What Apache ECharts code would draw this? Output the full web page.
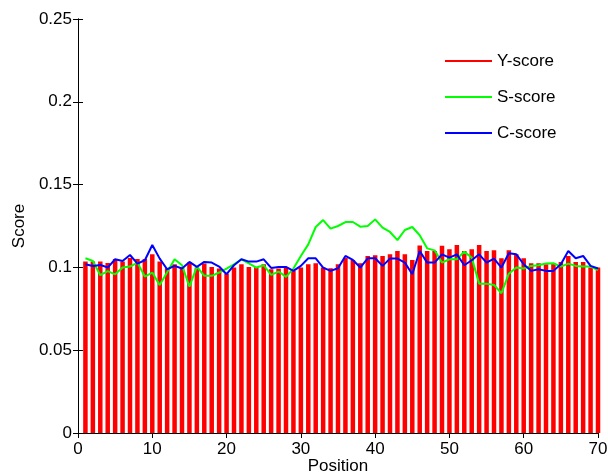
<!DOCTYPE html>
<html>
<head>
<meta charset="utf-8">
<script src="https://cdn.jsdelivr.net/npm/echarts@6/dist/echarts.min.js"></script>
<style>
html,body{margin:0;padding:0;background:#fff;}
#c{width:608px;height:475px;}
</style>
</head>
<body>
<div id="c"></div>
<script>
var positions = [];
for (var i = 1; i <= 70; i++) positions.push(i);

var yScore = [
0.1035,0.1035,0.1035,0.1027,0.1050,0.1035,0.1057,0.1050,0.1050,0.1080,
0.1035,0.0995,0.1019,0.0999,0.1029,0.0999,0.1023,0.1003,0.0993,0.0963,
0.0999,0.1019,0.1003,0.1002,0.1019,0.0989,0.0993,0.0999,0.0979,0.0999,
0.1019,0.1025,0.0999,0.0995,0.1019,0.1059,0.1045,0.1025,0.1069,0.1073,
0.1069,0.1079,0.1099,0.1079,0.1045,0.1133,0.1099,0.1099,0.1130,0.1109,
0.1135,0.1099,0.1109,0.1135,0.1099,0.1103,0.1055,0.1103,0.1079,0.1055,
0.1025,0.1025,0.1019,0.1023,0.1033,0.1069,0.1033,0.1033,0.0999,0.0999
];

var sScore = [
0.1055,0.1039,0.0953,0.0978,0.0958,0.0999,0.1005,0.1029,0.0945,0.0969,
0.0893,0.0970,0.1049,0.1013,0.0884,0.1005,0.0949,0.0949,0.0969,0.0993,
0.1019,0.1049,0.1025,0.0999,0.1013,0.0955,0.0975,0.0943,0.0993,0.1069,
0.1139,0.1244,0.1286,0.1234,0.1250,0.1274,0.1274,0.1246,0.1250,0.1290,
0.1240,0.1214,0.1165,0.1226,0.1244,0.1194,0.1115,0.1103,0.1029,0.1049,
0.1049,0.1095,0.1059,0.0902,0.0902,0.0894,0.0844,0.0962,0.0999,0.0993,
0.1009,0.1013,0.1023,0.1025,0.1005,0.1023,0.1009,0.1005,0.1005,0.0983
];

var cScore = [
0.1019,0.1009,0.1015,0.0999,0.1049,0.1039,0.1075,0.1023,0.1043,0.1135,
0.1053,0.0989,0.1009,0.0993,0.1033,0.1003,0.1033,0.1029,0.1005,0.0959,
0.1013,0.1049,0.1035,0.1035,0.1049,0.0997,0.1003,0.1003,0.0979,0.1009,
0.1055,0.1055,0.0999,0.0979,0.0995,0.1069,0.1045,0.0999,0.1055,0.1055,
0.1009,0.1053,0.1053,0.1029,0.0959,0.1099,0.1029,0.1029,0.1079,0.1059,
0.1079,0.1013,0.1043,0.1079,0.1029,0.1053,0.0999,0.1085,0.1079,0.1019,
0.0979,0.0989,0.0979,0.0979,0.1019,0.1099,0.1055,0.1069,0.1009,0.0993
];

var xTicks = [0,10,20,30,40,50,60,70];
var yTicks = [0,0.05,0.1,0.15,0.2,0.25];
var seriesNames = ['Y-score','S-score','C-score'];

function pairs(vals){ return positions.map(function(p,i){ return [p, vals[i]]; }); }

var FONT = 'Liberation Sans, Arial, sans-serif';
var FS = 17;

var chart = echarts.init(document.getElementById('c'), null, {renderer:'canvas'});
var axisLine = {show:true, lineStyle:{color:'#000', width:1}};
var axisTick = {show:true, inside:true, length:5, lineStyle:{color:'#000', width:1}};

chart.setOption({
  animation:false,
  backgroundColor:'#fff',
  grid:{left:78, top:19, width:520, height:414, containLabel:false, outerBoundsMode:'none'},
  legend:{
    orient:'vertical',
    left:445, top:52,
    padding:0,
    itemWidth:47, itemHeight:2,
    itemGap:18,
    icon:'rect',
    data:seriesNames,
    textStyle:{fontFamily:FONT, fontSize:FS, color:'#000', lineHeight:18, padding:[0,0,0,0]},
    selectedMode:false
  },
  xAxis:[{
    type:'value', min:xTicks[0], max:xTicks[xTicks.length-1], interval:10,
    position:'bottom',
    axisLine:axisLine, axisTick:axisTick, splitLine:{show:false},
    axisLabel:{fontFamily:FONT, fontSize:FS, color:'#000', margin:8},
    name:'Position', nameLocation:'middle', nameGap:25, nameMoveOverlap:false,
    nameTextStyle:{fontFamily:FONT, fontSize:FS, color:'#000'}
  },{
    type:'value', min:xTicks[0], max:xTicks[xTicks.length-1], interval:10,
    position:'top',
    axisLine:axisLine, axisTick:axisTick, splitLine:{show:false},
    axisLabel:{show:false}
  }],
  yAxis:[{
    type:'value', min:yTicks[0], max:yTicks[yTicks.length-1], interval:0.05,
    position:'left',
    axisLine:axisLine, axisTick:axisTick, splitLine:{show:false},
    axisLabel:{fontFamily:FONT, fontSize:FS, color:'#000', margin:6,
      formatter:function(v){ return String(+v.toFixed(2)); }},
    name:'Score', nameLocation:'middle', nameGap:50, nameRotate:90,
    nameTextStyle:{fontFamily:FONT, fontSize:FS, color:'#000'}
  },{
    type:'value', min:yTicks[0], max:yTicks[yTicks.length-1], interval:0.05,
    position:'right',
    axisLine:axisLine, axisTick:axisTick, splitLine:{show:false},
    axisLabel:{show:false}
  }],
  series:[{
    name:seriesNames[0], type:'bar', xAxisIndex:0, yAxisIndex:0,
    data:pairs(yScore), barWidth:4.5, itemStyle:{color:'#ff0000'},
    clip:true, z:2
  },{
    name:seriesNames[1], type:'line', xAxisIndex:0, yAxisIndex:0,
    data:pairs(sScore), symbol:'none', itemStyle:{color:'#00ff00'},
    lineStyle:{color:'#00ff00', width:2}, z:3
  },{
    name:seriesNames[2], type:'line', xAxisIndex:0, yAxisIndex:0,
    data:pairs(cScore), symbol:'none', itemStyle:{color:'#0000ff'},
    lineStyle:{color:'#0000ff', width:2}, z:4
  }]
});
</script>
</body>
</html>
